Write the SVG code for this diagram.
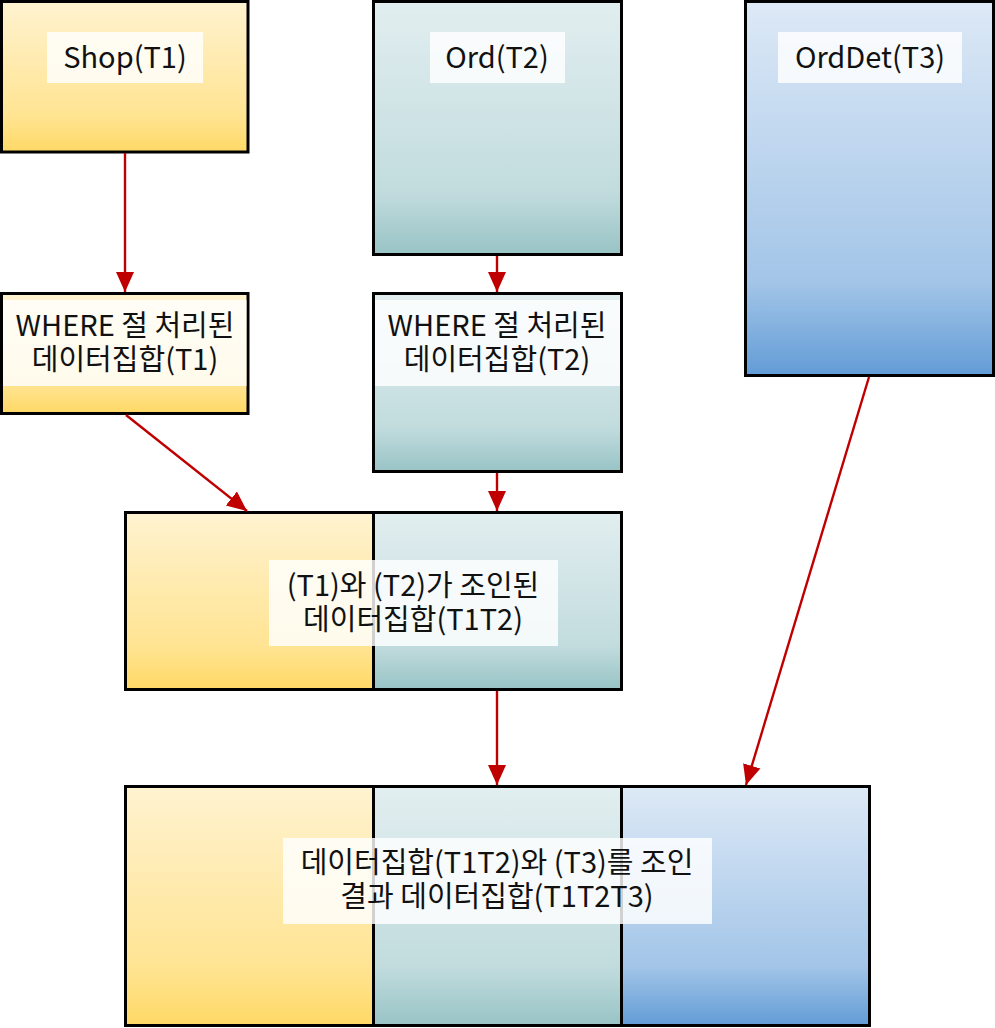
<svg xmlns="http://www.w3.org/2000/svg" width="995" height="1028" viewBox="0 0 995 1028">
<defs>
<linearGradient id="gY" x1="0" y1="0" x2="0" y2="1">
<stop offset="0" stop-color="#FFF3D0"/>
<stop offset="0.75" stop-color="#FFE493"/>
<stop offset="1" stop-color="#FFD966"/>
</linearGradient>
<linearGradient id="gT" x1="0" y1="0" x2="0" y2="1">
<stop offset="0" stop-color="#E2EEF0"/>
<stop offset="0.75" stop-color="#C2DCDE"/>
<stop offset="1" stop-color="#98C3C5"/>
</linearGradient>
<linearGradient id="gB" x1="0" y1="0" x2="0" y2="1">
<stop offset="0" stop-color="#DDE9F6"/>
<stop offset="0.75" stop-color="#A3C5E8"/>
<stop offset="1" stop-color="#629CD6"/>
</linearGradient>
<marker id="ah" viewBox="0 0 20 20" refX="20" refY="10" markerWidth="20" markerHeight="20" orient="auto" markerUnits="userSpaceOnUse">
<path d="M0,1 L20,10 L0,19 Z" fill="#C00000"/>
</marker>
</defs>
<style>
.box{stroke:#000;stroke-width:3}
.lbl{fill:#fff;fill-opacity:0.82}
.t{font-family:"Noto Sans CJK KR","Noto Sans",sans-serif;font-size:29px;fill:#111;text-anchor:middle}
.c{stroke:#C00000;stroke-width:2.4;fill:none;marker-end:url(#ah)}
</style>
<rect width="995" height="1028" fill="#fff"/>

<g id="shop">
<rect class="box" x="1.5" y="1.5" width="246.5" height="150.5" fill="url(#gY)"/>
<rect class="lbl" x="47" y="32" width="156" height="51"/>
<text class="t" x="125" y="68">Shop(T1)</text>
</g>

<g id="ord">
<rect class="box" x="373.5" y="1.5" width="248" height="253" fill="url(#gT)"/>
<rect class="lbl" x="430" y="32" width="135" height="51"/>
<text class="t" x="497" y="68">Ord(T2)</text>
</g>

<g id="orddet">
<rect class="box" x="745.5" y="1.5" width="248" height="374" fill="url(#gB)"/>
<rect class="lbl" x="778" y="32" width="184" height="51"/>
<text class="t" x="870" y="68">OrdDet(T3)</text>
</g>

<g id="where1">
<rect class="box" x="1.5" y="293.5" width="246.5" height="120" fill="url(#gY)"/>
<rect class="lbl" x="3" y="300" width="243.5" height="86"/>
<text class="t" x="125" y="336">WHERE 절 처리된</text>
<text class="t" x="125" y="370">데이터집합(T1)</text>
</g>

<g id="where2">
<rect class="box" x="373.5" y="293.5" width="248" height="178" fill="url(#gT)"/>
<rect class="lbl" x="375" y="300" width="245" height="86"/>
<text class="t" x="497" y="336">WHERE 절 처리된</text>
<text class="t" x="497" y="370">데이터집합(T2)</text>
</g>

<g id="join12">
<rect x="125.5" y="512.5" width="248" height="177" fill="url(#gY)"/>
<rect x="373.5" y="512.5" width="248" height="177" fill="url(#gT)"/>
<rect class="box" x="125.5" y="512.5" width="496" height="177" fill="none"/>
<line x1="373.5" y1="512.5" x2="373.5" y2="689.5" stroke="#000" stroke-width="3"/>
<rect class="lbl" x="269" y="560" width="289" height="86"/>
<text class="t" x="413" y="596">(T1)와 (T2)가 조인된</text>
<text class="t" x="413" y="630">데이터집합(T1T2)</text>
</g>

<g id="join123">
<rect x="125.5" y="786.5" width="248" height="239" fill="url(#gY)"/>
<rect x="373.5" y="786.5" width="248" height="239" fill="url(#gT)"/>
<rect x="621.5" y="786.5" width="248" height="239" fill="url(#gB)"/>
<rect class="box" x="125.5" y="786.5" width="744" height="239" fill="none"/>
<line x1="373.5" y1="786.5" x2="373.5" y2="1025.5" stroke="#000" stroke-width="3"/>
<line x1="621.5" y1="786.5" x2="621.5" y2="1025.5" stroke="#000" stroke-width="3"/>
<rect class="lbl" x="283" y="838" width="429" height="86"/>
<text class="t" x="497" y="873">데이터집합(T1T2)와 (T3)를 조인</text>
<text class="t" x="497" y="907">결과 데이터집합(T1T2T3)</text>
</g>

<g id="connectors">
<line class="c" x1="125" y1="153" x2="125" y2="292"/>
<line class="c" x1="497" y1="256" x2="497" y2="292"/>
<line class="c" x1="126" y1="415" x2="247" y2="511"/>
<line class="c" x1="497" y1="473" x2="497" y2="511"/>
<line class="c" x1="497" y1="691" x2="497" y2="785"/>
<line class="c" x1="869" y1="377" x2="746" y2="785"/>
</g>
</svg>
